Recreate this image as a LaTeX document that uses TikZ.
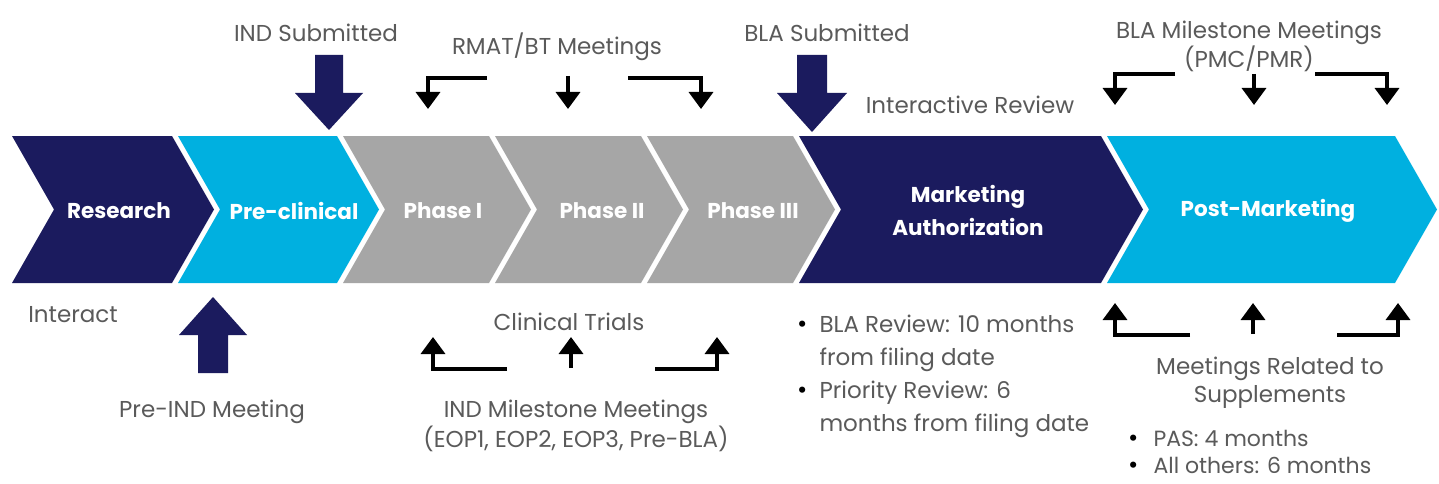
\documentclass[tikz,border=0pt]{standalone}
\usepackage{fontspec}
\setmainfont{Poppins}
\usetikzlibrary{arrows.meta}
\definecolor{navy}{HTML}{1B1B5E}
\definecolor{skyblue}{HTML}{00B0E0}
\definecolor{stagegray}{HTML}{A6A6A6}
\definecolor{txtgray}{HTML}{5A5A5A}
% one chevron: left x, right x (top corners), fill colour
\newcommand{\stagechevron}[3]{%
  \fill[#3] (#1,136) -- (#2,136) -- (#2+42,209.5) -- (#2,283) -- (#1,283) -- (#1+42,209.5) -- cycle;}
\newcommand{\blt}{{\fontsize{25}{25}\selectfont\color{black}\textbullet}}
\tikzset{
  stagelabel/.style={text=white, font=\fontsize{21.5}{30}\selectfont\bfseries, align=center, inner sep=0pt},
  note/.style={text=txtgray, font=\fontsize{23}{30}\selectfont, align=center, inner sep=0pt},
  smallarrow/.style={draw=black, line width=3.5pt, -{Triangle[width=24pt,length=17pt]}},
  bigarrow/.style={fill=navy},
}
\begin{document}
\begin{tikzpicture}[x=1pt,y=-1pt]
\useasboundingbox (0,0) rectangle (1439,484);
\fill[white] (0,0) rectangle (1439,484);

% stage chevrons
\stagechevron{12}{172}{navy}
\stagechevron{178}{337}{skyblue}
\stagechevron{343}{489}{stagegray}
\stagechevron{495}{641}{stagegray}
\stagechevron{647}{793}{stagegray}
\stagechevron{799}{1101}{navy}
\stagechevron{1107}{1395}{skyblue}

\node[stagelabel] (research) at (119,211) {Research};
\node[stagelabel] (preclin) at (294,211) {Pre-clinical};
\node[stagelabel] (ph1) at (443,211) {Phase I};
\node[stagelabel] (ph2) at (602,211) {Phase II};
\node[stagelabel] (ph3) at (753,211) {Phase III};
\node[stagelabel, font=\fontsize{21.5}{33}\selectfont\bfseries] (market) at (968,210) {Marketing\\Authorization};
\node[stagelabel] (post) at (1268,211) {Post-Marketing};

% block arrows
\fill[bigarrow] (315,55) -- (343,55) -- (343,93) -- (363,93) -- (329,130) -- (295,93) -- (315,93) -- cycle;
\fill[bigarrow] (797,55) -- (827,55) -- (827,93) -- (847,93) -- (812,132) -- (777,93) -- (797,93) -- cycle;
\fill[bigarrow] (213,297) -- (247,335) -- (228,335) -- (228,373) -- (198,373) -- (198,335) -- (179,335) -- cycle;

% top texts
\node[note] (indsub) at (316,33) {IND Submitted};
\node[note] (rmat) at (557,47) {RMAT/BT Meetings};
\node[note] (blasub) at (827,33) {BLA Submitted};
\node[note, font=\fontsize{23}{27}\selectfont] (blams) at (1249,46) {BLA Milestone Meetings\\(PMC/PMR)};
\node[note] (interactive) at (970,105) {Interactive Review};

% bottom texts
\node[note] (interact) at (73,315) {Interact};
\node[note] (preind) at (212,412) {Pre-IND Meeting};
\node[note] (clinical) at (569,322) {Clinical Trials};
\node[note, font=\fontsize{23}{30}\selectfont] (indms) at (576,426) {IND Milestone Meetings\\(EOP1, EOP2, EOP3, Pre-BLA)};
\node[note, align=left, anchor=west, font=\fontsize{23}{33}\selectfont] (blarev) at (797,376)
  {\blt\hspace{12pt}BLA Review: 10 months\\\hphantom{\blt\hspace{12pt}}from filing date\\
   \blt\hspace{12pt}Priority Review: 6\\\hphantom{\blt\hspace{12pt}}months from filing date};
\node[note, font=\fontsize{23}{28}\selectfont] (supp) at (1270,383) {Meetings Related to\\Supplements};
\node[note, align=left, anchor=west, font=\fontsize{22}{27}\selectfont] (pas) at (1128,452)
  {\blt\hspace{15pt}PAS: 4 months\\\blt\hspace{15pt}All others: 6 months};

% RMAT/BT meeting arrows
\coordinate (ra) at (487,78);  \coordinate (rat) at (428,109);
\coordinate (rb) at (568,76);  \coordinate (rbt) at (568,109);
\coordinate (rc) at (628,78);  \coordinate (rct) at (701,109);
\draw[smallarrow] (ra) -| (rat);
\draw[smallarrow] (rb) -- (rbt);
\draw[smallarrow] (rc) -| (rct);

% BLA milestone arrows
\coordinate (ma) at (1175,74); \coordinate (mat) at (1115,105);
\coordinate (mb) at (1254,74); \coordinate (mbt) at (1254,105);
\coordinate (mc) at (1315,74); \coordinate (mct) at (1387,105);
\draw[smallarrow] (ma) -| (mat);
\draw[smallarrow] (mb) -- (mbt);
\draw[smallarrow] (mc) -| (mct);

% clinical trial arrows
\coordinate (ca) at (507,369); \coordinate (cat) at (433,337);
\coordinate (cb) at (571,368); \coordinate (cbt) at (571,337);
\coordinate (cc) at (655,369); \coordinate (cct) at (717,337);
\draw[smallarrow] (ca) -| (cat);
\draw[smallarrow] (cb) -- (cbt);
\draw[smallarrow] (cc) -| (cct);

% supplement meeting arrows
\coordinate (sa) at (1190,335); \coordinate (sat) at (1115,303);
\coordinate (sb) at (1253,334); \coordinate (sbt) at (1253,303);
\coordinate (sc) at (1337,335); \coordinate (sct) at (1398,303);
\draw[smallarrow] (sa) -| (sat);
\draw[smallarrow] (sb) -- (sbt);
\draw[smallarrow] (sc) -| (sct);
\end{tikzpicture}
\end{document}
